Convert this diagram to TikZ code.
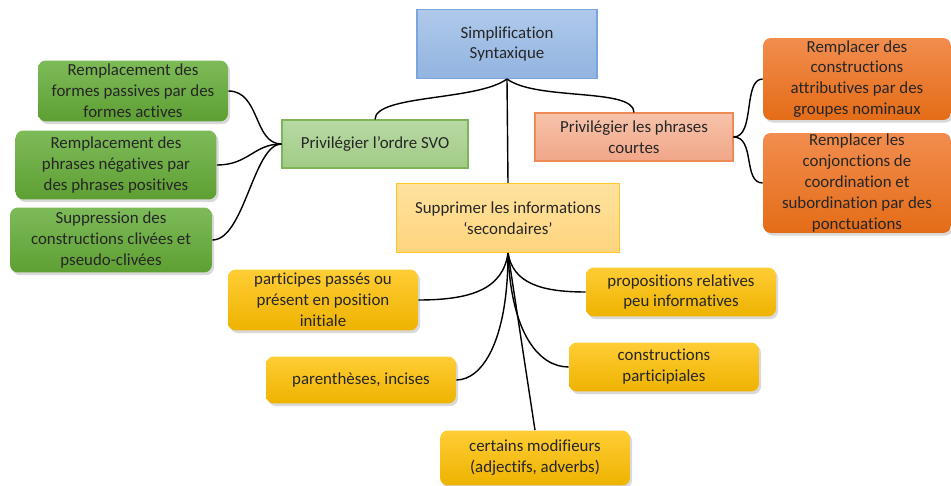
\documentclass[tikz,border=0pt]{standalone}
\usepackage{fontspec}
\setmainfont{Carlito}[Ligatures=NoCommon]
\usetikzlibrary{shadows}

\definecolor{txtgray}{HTML}{262626}
\definecolor{rootline}{HTML}{7AA6DD}
\definecolor{roottop}{HTML}{AFC9EB}
\definecolor{rootbot}{HTML}{92B4E0}
\definecolor{svoline}{HTML}{7DB65A}
\definecolor{svotop}{HTML}{B7D9A3}
\definecolor{svobot}{HTML}{A2CB86}
\definecolor{courtline}{HTML}{EE8A55}
\definecolor{courttop}{HTML}{F6C3AB}
\definecolor{courtbot}{HTML}{F1A688}
\definecolor{supline}{HTML}{FFC627}
\definecolor{suptop}{HTML}{FFE29E}
\definecolor{supbot}{HTML}{FFD57E}
\definecolor{greentop}{HTML}{7DBB58}
\definecolor{greenbot}{HTML}{5E9F33}
\definecolor{orangetop}{HTML}{F28D4E}
\definecolor{orangebot}{HTML}{E46C17}
\definecolor{goldtop}{HTML}{FFCD35}
\definecolor{goldbot}{HTML}{EEB300}

\tikzset{
  base/.style={align=center, inner sep=0pt, text=txtgray,
    font=\fontsize{9.6}{11.9}\selectfont},
  topic/.style={base, line width=0.6pt},
  leaf/.style={base, rounded corners=4.5pt,
    drop shadow={opacity=0.3, shadow xshift=1.2pt, shadow yshift=-1.5pt}},
  greenleaf/.style={leaf, top color=greentop, bottom color=greenbot},
  orangeleaf/.style={leaf, top color=orangetop, bottom color=orangebot},
  goldleaf/.style={leaf, top color=goldtop, bottom color=goldbot},
  link/.style={line width=0.8pt, black}
}

\begin{document}
\begin{tikzpicture}[x=0.02cm, y=-0.02cm]
  \useasboundingbox (0,0) rectangle (951,486);

  % Main topics
  \node[topic, draw=rootline, top color=roottop, bottom color=rootbot,
    minimum width=3.6cm, minimum height=1.38cm] (root) at (507,44)
    {Simplification\\Syntaxique};
  \node[topic, draw=svoline, top color=svotop, bottom color=svobot,
    minimum width=3.72cm, minimum height=0.96cm] (svo) at (375,144)
    {Privilégier l’ordre SVO};
  \node[topic, draw=courtline, top color=courttop, bottom color=courtbot,
    minimum width=3.96cm, minimum height=0.96cm] (courtes) at (634,137)
    {Privilégier les phrases\\courtes};
  \node[topic, draw=supline, top color=suptop, bottom color=supbot,
    minimum width=4.46cm, minimum height=1.38cm] (supp) at (508,218)
    {Supprimer les informations\\‘secondaires’};

  % Green leaves
  \node[greenleaf, minimum width=3.8cm, minimum height=1.22cm] (passive) at (133,91)
    {Remplacement des\\formes passives par des\\formes actives};
  \node[greenleaf, minimum width=4.02cm, minimum height=1.38cm] (negative) at (116,165)
    {Remplacement des\\phrases négatives par\\des phrases positives};
  \node[greenleaf, minimum width=4.04cm, minimum height=1.3cm] (clivee) at (111,240)
    {Suppression des\\constructions clivées et\\pseudo-clivées};

  % Orange leaves
  \node[orangeleaf, minimum width=3.76cm, minimum height=1.64cm] (attrib) at (857,79)
    {Remplacer des\\constructions\\attributives par des\\groupes nominaux};
  \node[orangeleaf, minimum width=3.76cm, minimum height=2.0cm] (conj) at (857,183)
    {Remplacer les\\conjonctions de\\coordination et\\subordination par des\\ponctuations};

  % Gold leaves
  \node[goldleaf, minimum width=3.8cm, minimum height=1.22cm] (partic) at (323,300)
    {participes passés ou\\présent en position\\initiale};
  \node[goldleaf, minimum width=3.8cm, minimum height=0.94cm] (paren) at (361,380)
    {parenthèses, incises};
  \node[goldleaf, minimum width=3.8cm, minimum height=0.98cm] (relat) at (681,292)
    {propositions relatives\\peu informatives};
  \node[goldleaf, minimum width=3.8cm, minimum height=0.98cm] (constr) at (664,367)
    {constructions\\participiales};
  \node[goldleaf, minimum width=3.8cm, minimum height=1.1cm] (modif) at (535,458)
    {certains modifieurs\\(adjectifs, adverbs)};

  % Connectors from the root
  \draw[link] (root.south) .. controls +(-30,22) and +(0,-25) .. (svo.north);
  \draw[link] (root.south) .. controls +(30,22) and +(0,-25) .. (courtes.north);
  \draw[link] (root.south) -- (supp.north);

  % Connectors to the green leaves
  \draw[link] (svo.west) .. controls +(-28,0) and +(32,0) .. (passive.east);
  \draw[link] (svo.west) .. controls +(-28,0) and +(32,0) .. (negative.east);
  \draw[link] (svo.west) .. controls +(-28,0) and +(32,0) .. (clivee.east);

  % Connectors to the orange leaves
  \draw[link] (courtes.east) .. controls +(22,0) and +(-20,0) .. (attrib.west);
  \draw[link] (courtes.east) .. controls +(22,0) and +(-20,0) .. (conj.west);

  % Connectors to the gold leaves
  \draw[link] (supp.south) .. controls +(-5,35) and +(55,0) .. (partic.east);
  \draw[link] (supp.south) .. controls +(0,90) and +(25,0) .. (paren.east);
  \draw[link] (supp.south) .. controls +(5,30) and +(-45,0) .. (relat.west);
  \draw[link] (supp.south) .. controls +(3,80) and +(-30,0) .. (constr.west);
  \draw[link] (supp.south) -- (modif.north);
\end{tikzpicture}
\end{document}
